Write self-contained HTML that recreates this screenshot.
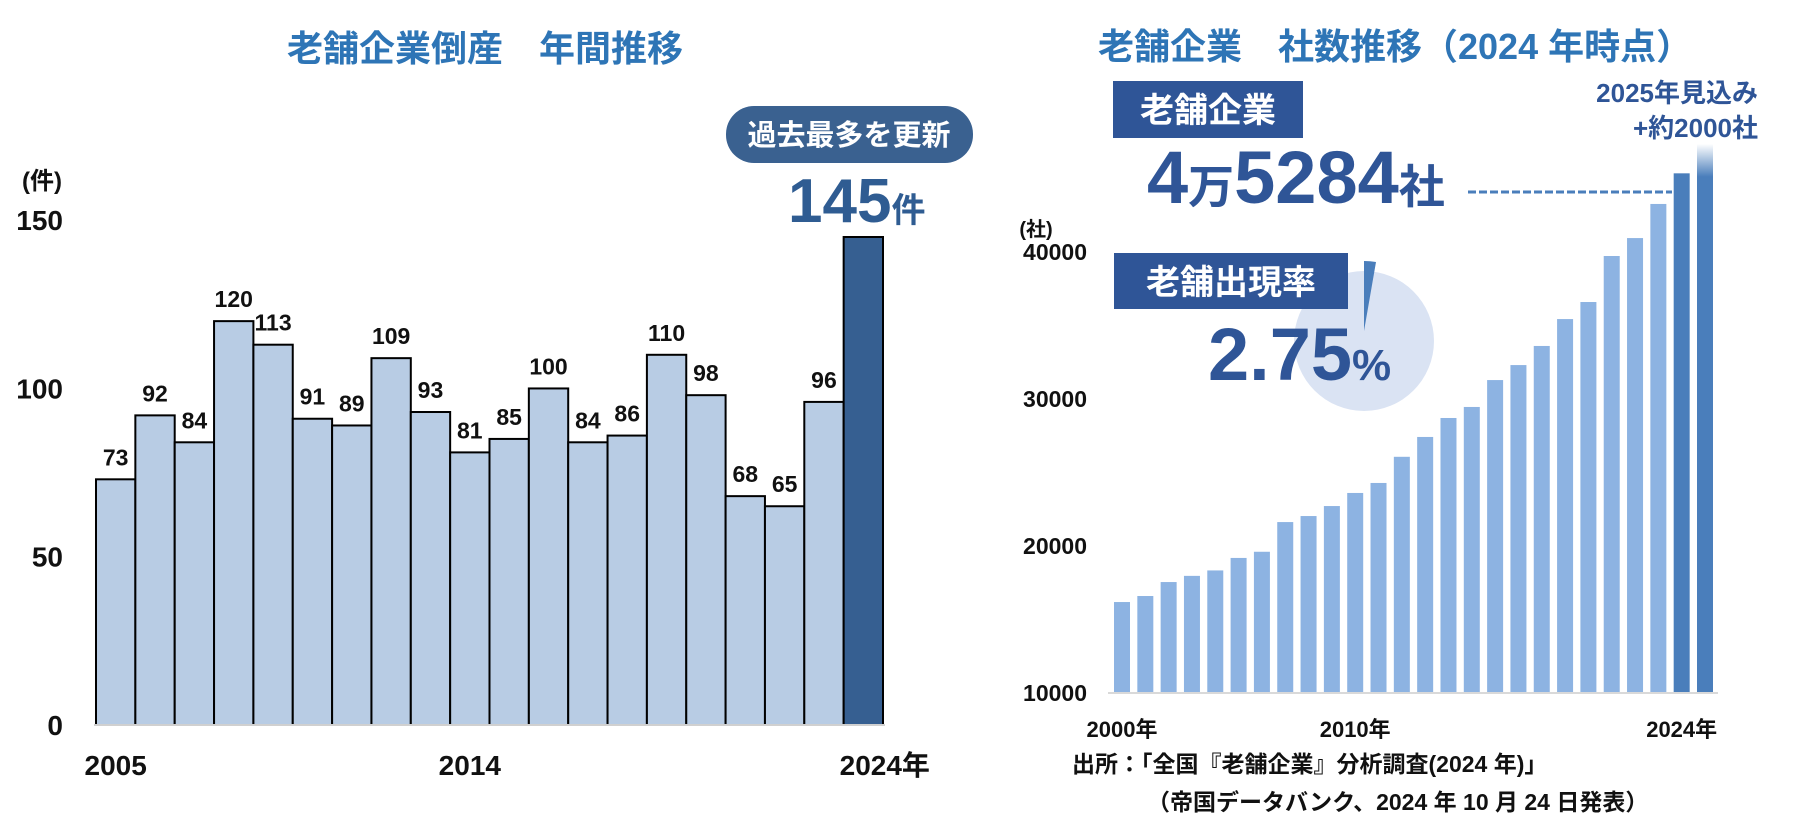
<!DOCTYPE html>
<html><head><meta charset="utf-8"><style>
html,body{margin:0;padding:0;background:#fff;}
svg{display:block;font-family:"Liberation Sans","Noto Sans CJK JP",sans-serif;}
</style></head><body>
<svg id="chart" width="1809" height="821" viewBox="0 0 1809 821" xmlns="http://www.w3.org/2000/svg">
<defs>
<linearGradient id="fade" x1="0" y1="0" x2="0" y2="1">
<stop offset="0" stop-color="#4a7ebb" stop-opacity="0"/>
<stop offset="0.06" stop-color="#4a7ebb" stop-opacity="1"/>
<stop offset="1" stop-color="#4a7ebb"/>
</linearGradient>
</defs>
<text x="485" y="61" text-anchor="middle" font-size="36" font-weight="bold" fill="#2e75b6">老舗企業倒産　年間推移</text>
<text x="42" y="189" text-anchor="middle" font-size="24" font-weight="bold" fill="#111">(件)</text>
<g id="leftY"></g>
<g id="leftBars"></g>
<line x1="94" y1="725" x2="885" y2="725" stroke="#d0d0d0" stroke-width="2"/>
<g id="leftX"></g>
<rect x="726" y="106" width="247" height="57" rx="28" fill="#3a6190"/>
<text x="849" y="145" text-anchor="middle" font-size="29" font-weight="bold" fill="#fff">過去最多を更新</text>
<text x="788" y="222" font-size="62" font-weight="bold" fill="#2f5c92">145<tspan font-size="34">件</tspan></text>

<text x="1098" y="59" font-size="36" font-weight="bold" fill="#2e75b6">老舗企業　社数推移（2024 年時点）</text>
<text x="1036" y="236" text-anchor="middle" font-size="20" font-weight="bold" fill="#111">(社)</text>
<g id="rightY"></g>
<g id="rightBars"></g>
<line x1="1108" y1="693" x2="1718" y2="693" stroke="#d9d9d9" stroke-width="2"/>
<g id="rightX"></g>

<text x="1758" y="102" text-anchor="end" font-size="26" font-weight="bold" fill="#2f5597">2025年見込み</text>
<text x="1758" y="137" text-anchor="end" font-size="26" font-weight="bold" fill="#2f5597">+約2000社</text>
<rect x="1113" y="81" width="190" height="57" fill="#2f5597"/>
<text x="1208" y="122" text-anchor="middle" font-size="34" font-weight="bold" fill="#fff">老舗企業</text>
<text x="1147" y="203" font-size="74" font-weight="bold" fill="#2f5597">4<tspan font-size="46">万</tspan>5284<tspan font-size="46">社</tspan></text>
<line x1="1468" y1="192" x2="1672" y2="192" stroke="#4a7ebb" stroke-width="3" stroke-dasharray="8,3"/>

<circle cx="1364" cy="341" r="70" fill="#dae3f3"/>
<path d="M1364 331 L1364 261 A70 70 0 0 1 1376 262 Z" fill="#4a7ebb"/>
<rect x="1114" y="253" width="234" height="56" fill="#2f5597"/>
<text x="1231" y="294" text-anchor="middle" font-size="34" font-weight="bold" fill="#fff">老舗出現率</text>
<text x="1208" y="380" font-size="74" font-weight="bold" fill="#2f5597">2.75<tspan font-size="44">%</tspan></text>

<text x="1072" y="772" font-size="23" font-weight="bold" fill="#111">出所：「全国『老舗企業』分析調査(2024 年)」</text>
<text x="1147" y="810" font-size="23" font-weight="bold" fill="#111">（帝国データバンク、2024 年 10 月 24 日発表）</text>
</svg>
<script>
const leftYears = [2005,2006,2007,2008,2009,2010,2011,2012,2013,2014,2015,2016,2017,2018,2019,2020,2021,2022,2023,2024];
const leftValues = [73,92,84,120,113,91,89,109,93,81,85,100,84,86,110,98,68,65,96,145];
const leftTicks = [0,50,100,150];
const leftXLabels = ["2005","2014","2024年"];
const leftXLabelYears = [2005,2014,2024];

const rightYears = [2000,2001,2002,2003,2004,2005,2006,2007,2008,2009,2010,2011,2012,2013,2014,2015,2016,2017,2018,2019,2020,2021,2022,2023,2024,2025];
const rightValues = [16120,16530,17480,17900,18270,19120,19540,21560,21970,22650,23540,24220,26000,27350,28640,29390,31220,32240,33540,35370,36530,39660,40880,43200,45284,47284];
const rightTicks = [10000,20000,30000,40000];
const rightXLabels = ["2000年","2010年","2024年"];
const rightXLabelYears = [2000,2010,2024];

const NS = "http://www.w3.org/2000/svg";
function mk(tag, attrs, parent, text){
  const e = document.createElementNS(NS, tag);
  for (const k in attrs) e.setAttribute(k, attrs[k]);
  if (text !== undefined) e.textContent = text;
  parent.appendChild(e);
  return e;
}
// left axis functions
const L0 = 725, Lk = (725-237)/145, LX0 = 96, LW = (883-96)/20;
const ly = v => L0 - v*Lk;
const lx = i => LX0 + i*LW;
const gLY = document.getElementById('leftY');
leftTicks.forEach(t => {
  const e = mk('text', {x:63, y:ly(t)+10, 'text-anchor':'end', 'font-size':28, 'font-weight':'bold', fill:'#111'}, gLY, String(t));
  
  
});
const gLB = document.getElementById('leftBars');
leftValues.forEach((v,i) => {
  const last = i === leftValues.length-1;
  const r = mk('rect', {x:lx(i), y:ly(v), width:LW, height:L0-ly(v), fill: last?'#365f91':'#b8cce4', stroke:'#000', 'stroke-width':2}, gLB);
  
  
  if (!last) {
    const t = mk('text', {x:lx(i)+LW/2, y:ly(v)-14, 'text-anchor':'middle', 'font-size':23, 'font-weight':'bold', fill:'#111'}, gLB, String(v));
    
    
  }
});
const gLX = document.getElementById('leftX');
leftXLabels.forEach((s,k) => {
  const i = leftYears.indexOf(leftXLabelYears[k]);
  const last = k === leftXLabels.length-1;
  const t = mk('text', {x: last ? lx(i)-4 : lx(i)+LW/2, y:775, 'text-anchor': last?'start':'middle', 'font-size':28, 'font-weight':'bold', fill:'#111'}, gLX, s);
  
  
});
// right axis functions
const R0 = 692, Rk = (692-251)/30000, RX0 = 1114, RP = (1697-1114)/25, RW = 16;
const ry = v => R0 - (v-10000)*Rk;
const rx = i => RX0 + i*RP;
const gRY = document.getElementById('rightY');
rightTicks.forEach(t => {
  const e = mk('text', {x:1087, y:ry(t)+9, 'text-anchor':'end', 'font-size':23, 'font-weight':'bold', fill:'#111'}, gRY, String(t));
  
  
});
const gRB = document.getElementById('rightBars');
rightValues.forEach((v,i) => {
  const n = rightValues.length;
  const fill = i === n-1 ? 'url(#fade)' : (i === n-2 ? '#4a7ebb' : '#8db3e2');
  const r = mk('rect', {x:rx(i), y:ry(v), width:RW, height:R0-ry(v), fill:fill}, gRB);
  
  
});
const gRX = document.getElementById('rightX');
rightXLabels.forEach((s,k) => {
  const i = rightYears.indexOf(rightXLabelYears[k]);
  const t = mk('text', {x:rx(i)+RW/2, y:737, 'text-anchor':'middle', 'font-size':22, 'font-weight':'bold', fill:'#111'}, gRX, s);
  
  
});
</script>
</body></html>
